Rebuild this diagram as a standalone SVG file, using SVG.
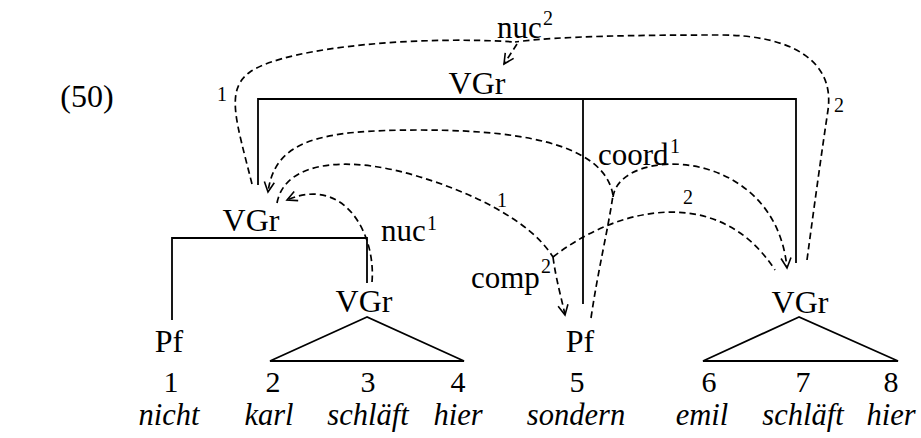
<svg xmlns="http://www.w3.org/2000/svg" width="921" height="438" viewBox="0 0 921 438">
<style>
text{font-family:"Liberation Serif","Times New Roman",serif;fill:#000}
.n{font-size:32px;text-anchor:middle}
.d{font-size:30px;text-anchor:middle}
.w{font-size:30.5px;text-anchor:middle;font-style:italic}
.lab{font-size:31px}
.sup{font-size:20px}
.sm{font-size:20px;text-anchor:middle}
.tree{fill:none;stroke:#000;stroke-width:1.8}
.dep{fill:none;stroke:#000;stroke-width:1.7;stroke-dasharray:6.5,4}
</style>
<defs>
<marker id="ah" markerUnits="userSpaceOnUse" markerWidth="14" markerHeight="14" refX="11" refY="6" orient="auto">
<path d="M1,1 L11,6 L1,11" fill="none" stroke="#000" stroke-width="1.6"/>
</marker>
</defs>
<rect width="921" height="438" fill="#fff"/>
<text x="87" y="107" class="n">(50)</text>
<g id="tree-lines">
<path class="tree" d="M258,185 V99 H796 V263 M583,99 V304"/>
<path class="tree" d="M172,320 V238 H367 V283"/>
<path class="tree" d="M367,317 L270,361 L464,361 Z"/>
<path class="tree" d="M799,317 L703,361 L898,361 Z"/>
</g>
<g id="node-vgr-top"><text x="477" y="94" class="n">VGr</text></g>
<g id="node-vgr-left"><text x="251" y="231" class="n">VGr</text></g>
<g id="node-vgr-inner"><text x="364" y="312" class="n">VGr</text></g>
<g id="node-vgr-right"><text x="800" y="313" class="n">VGr</text></g>
<g id="node-pf1"><text x="169" y="352" class="n">Pf</text></g>
<g id="node-pf5"><text x="580" y="352" class="n">Pf</text></g>
<g id="numbers">
<text x="171" y="392" class="d">1</text>
<text x="273" y="392" class="d">2</text>
<text x="368" y="392" class="d">3</text>
<text x="458" y="392" class="d">4</text>
<text x="577" y="392" class="d">5</text>
<text x="709" y="392" class="d">6</text>
<text x="803" y="392" class="d">7</text>
<text x="891" y="392" class="d">8</text>
</g>
<g id="words">
<text x="169" y="425" class="w">nicht</text>
<text x="269" y="425" class="w">karl</text>
<text x="368" y="425" class="w">schläft</text>
<text x="458" y="425" class="w">hier</text>
<text x="576" y="425" class="w">sondern</text>
<text x="702" y="425" class="w">emil</text>
<text x="803" y="425" class="w">schläft</text>
<text x="891" y="425" class="w">hier</text>
</g>
<g id="connectors">
<path class="dep" d="M252,184 C236,120 225,90 250,72 C290,45 430,36 515,42"/>
<path class="dep" d="M807,260 C815,200 822,150 828,110 C835,60 790,35 720,35 C640,35 560,36 515,42"/>
<path class="dep" d="M517,44 L504,64" marker-end="url(#ah)"/>
<path class="dep" d="M591,318 C598,270 608,230 613,195"/>
<path class="dep" d="M613,195 C605,150 540,130 420,130 C320,130 275,140 268,192" marker-end="url(#ah)"/>
<path class="dep" d="M613,197 C620,145 775,145 787,268" marker-end="url(#ah)"/>
<path class="dep" d="M277,203 C285,160 350,155 420,177 C470,192 530,220 553,257"/>
<path class="dep" d="M553,257 C620,205 720,185 775,270"/>
<path class="dep" d="M553,257 C556,280 562,300 565,315" marker-end="url(#ah)"/>
<path class="dep" d="M372,282 C376,235 345,175 287,200" marker-end="url(#ah)"/>
</g>
<g id="labels">
<text class="lab"><tspan x="497" y="38">nuc</tspan><tspan class="sup" x="543" y="25">2</tspan></text>
<text class="lab"><tspan x="598" y="165">coord</tspan><tspan class="sup" x="670" y="153">1</tspan></text>
<text class="lab"><tspan x="381" y="241">nuc</tspan><tspan class="sup" x="427" y="230">1</tspan></text>
<text class="lab"><tspan x="471" y="288">comp</tspan><tspan class="sup" x="541" y="273">2</tspan></text>
<text x="222" y="101" class="sm">1</text>
<text x="839" y="112" class="sm">2</text>
<text x="502" y="207" class="sm">1</text>
<text x="688" y="204" class="sm">2</text>
</g>
</svg>
